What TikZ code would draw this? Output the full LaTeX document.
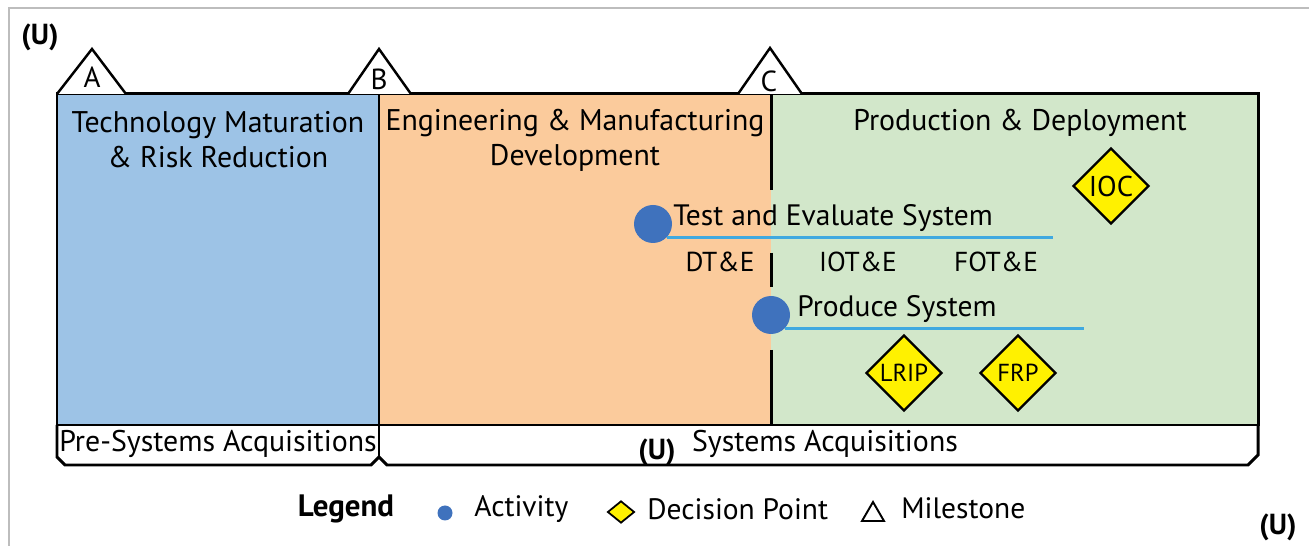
\documentclass[tikz,border=0pt]{standalone}
\usepackage{fontspec}
\setmainfont{PT Sans}
\usetikzlibrary{shapes.geometric}
\definecolor{tmrrblue}{HTML}{9DC3E6}
\definecolor{emdorange}{HTML}{FBCB9C}
\definecolor{pdgreen}{HTML}{D2E7CA}
\definecolor{actblue}{HTML}{3F72BD}
\definecolor{barblue}{HTML}{40A9E0}
\definecolor{decyellow}{HTML}{FFF100}
\definecolor{framegray}{HTML}{BDBDBD}
\tikzset{
  border/.style={line width=1.7pt, line join=miter},
  phase/.style={font=\fontsize{17}{19.8}\selectfont, align=center, inner sep=0pt},
  acttext/.style={font=\fontsize{16.8}{19}\selectfont, anchor=west, inner sep=0pt},
  testphase/.style={font=\fontsize{15.6}{18}\selectfont, inner sep=0pt},
  activity/.style={circle, fill=actblue, inner sep=0pt, minimum size=0.76cm},
  bar/.style={barblue, line width=1.5pt},
  decision/.style={diamond, draw=black, line width=1.3pt, fill=decyellow, inner sep=0pt, minimum size=1.52cm, font=\fontsize{14}{16}\selectfont},
  milestone/.style={draw=black, fill=white, line width=1.4pt, line join=miter},
  mlabel/.style={font=\fontsize{16.5}{18}\selectfont, inner sep=0pt},
  marking/.style={font=\bfseries\fontsize{16.5}{18}\selectfont, inner sep=0pt},
  legtext/.style={font=\fontsize{16.8}{19}\selectfont, anchor=west, inner sep=0pt},
}
\begin{document}
\begin{tikzpicture}[x=0.02cm, y=-0.02cm]
		%%%%% START %%%%%
		\useasboundingbox (0,0) rectangle (1309,546);
		\draw[framegray, line width=0.6pt] (9,546) -- (9,8) -- (1309,8);
		
		% phases
		\fill[tmrrblue] (57,94) rectangle (379,425);
		\fill[emdorange] (379,94) rectangle (771,425);
		\fill[pdgreen] (771,94) rectangle (1258,425);
		
		\draw[border] (379,94) -- (379,425);
		\draw[border] (771,94) -- (771,190);
		\draw[border] (771,253) -- (771,287);
		\draw[border] (771,350) -- (771,425);
		\draw[border] (57,94) rectangle (1258,425);
		
		% acquisition bands
		\draw[border] (57,425) -- (57,457) -- (65,465) -- (371,465) -- (379,457) -- (387,465) -- (1248,465) -- (1258,455) -- (1258,425);
		\draw[border] (379,425) -- (379,457);
		
		% milestones
		\draw[milestone] (57,94) -- (92,49) -- (126,94);
		\draw[milestone] (348,94) -- (379,49) -- (411,94);
		\draw[milestone] (738,94) -- (770,48) -- (802,94);
		\node[mlabel] (msa) at (92,77) {A};
		\node[mlabel] (msb) at (379,79) {B};
		\node[mlabel] (msc) at (769,81) {C};
		
		\node[phase] (tmrr) at (218,140) {Technology Maturation\\\& Risk Reduction};
		\node[phase] (emd) at (575,140) {Engineering \& Manufacturing\\Development};
		\node[phase] (pd) at (1020,123) {Production \& Deployment};
		
		% activities
		\node[activity] (tes) at (653,224) {};
		\node[acttext] (teslabel) at (673,218) {Test and Evaluate System};
		\coordinate (tesend) at (1053,237);
		\draw[bar] (tes.south east) -- (tes.south east -| tesend);
		
		\node[testphase] (dte) at (720,262) {DT\&E};
		\node[testphase] (iote) at (858,262) {IOT\&E};
		\node[testphase] (fote) at (996,262) {FOT\&E};
		
		\node[activity] (pds) at (771,315) {};
		\node[acttext] (pdslabel) at (797,309) {Produce System};
		\coordinate (pdsend) at (1084,327);
		\draw[bar] (pds.south east) -- (pds.south east -| pdsend);
		
		% decision points
		\node[decision, font=\fontsize{16.3}{18}\selectfont] (ioc) at (1111,186) {IOC};
		\node[decision] (lrip) at (904,373) {LRIP};
		\node[decision] (frp) at (1018,373) {FRP};
		
		\node[phase] (presa) at (218,444) {Pre-Systems Acquisitions};
		\node[phase] (sa) at (825,444) {Systems Acquisitions};
		
		% legend
		\node[marking, font=\bfseries\fontsize{17.6}{19}\selectfont] (legend) at (346,509) {Legend};
		\node[circle, fill=actblue, inner sep=0pt, minimum size=0.3cm] (legact) at (445,513) {};
		\node[legtext] (legacttext) at (474,509) {Activity};
		\node[diamond, draw=black, line width=1pt, fill=decyellow, inner sep=0pt, minimum width=0.54cm, minimum height=0.44cm] (legdec) at (621,512) {};
		\node[legtext] (legdectext) at (647,509) {Decision Point};
		\draw[line width=1.1pt, line join=miter] (862,521) -- (873,502) -- (884,521) -- cycle;
		\node[legtext] (legmstext) at (901,508) {Milestone};
		
		% markings
		\node[marking] (utop) at (40,37) {(U)};
		\node[marking] (umid) at (657,452) {(U)};
		\node[marking] (ubot) at (1278,527) {(U)};
		%%%%% END %%%%%
	\end{tikzpicture}
\end{document}
